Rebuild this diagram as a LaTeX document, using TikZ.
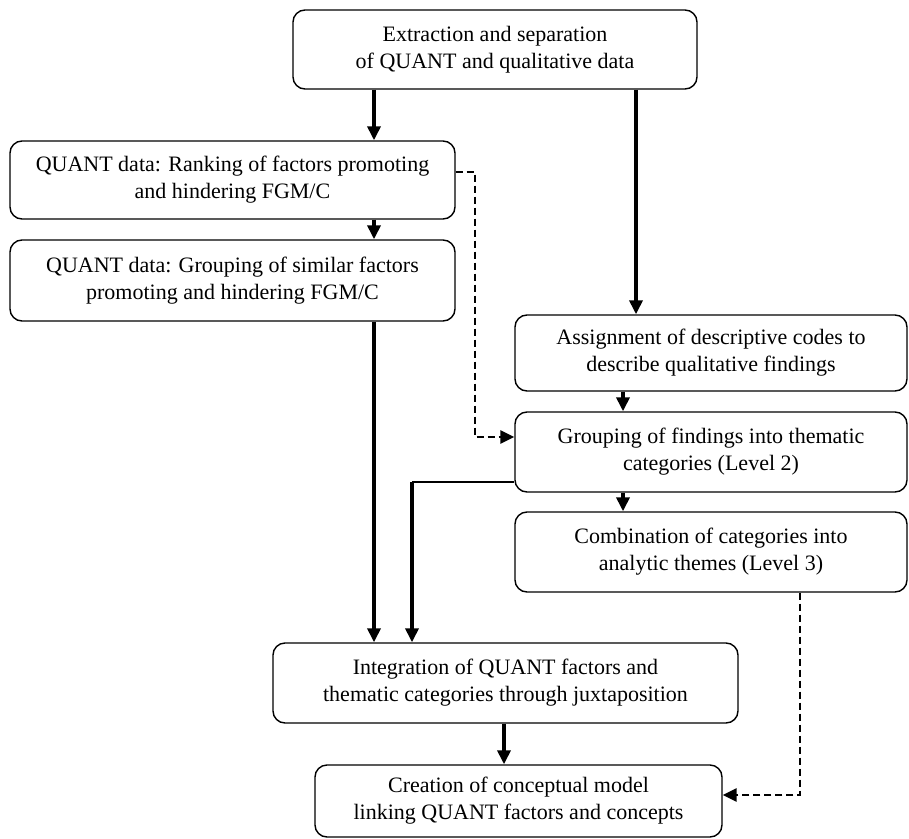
\documentclass[tikz,border=0pt]{standalone}
\usepackage{fontspec}
\setmainfont{Liberation Serif}
\usetikzlibrary{arrows.meta}

\tikzset{
  stage/.style = {draw, rounded corners = 12bp, line width = 1.4bp, align = center,
    inner sep = 0pt, font = \fontsize{22bp}{27bp}\selectfont},
  flow/.style = {-{Triangle[length = 14bp, width = 13bp]}, line width = 3.5bp},
  dflow/.style = {flow, line width = 2.8bp, dash pattern = on 7bp off 4bp},
}

\begin{document}
\begin{tikzpicture}[x = 1bp, y = -1bp]
  \useasboundingbox (0, 0) rectangle (909, 839);
  \node[stage, minimum width = 404bp, minimum height = 79bp] at (495, 49.5) (extract)
    {Extraction and separation\\of QUANT and qualitative data};
  \node[stage, minimum width = 445bp, minimum height = 78bp] at (232.5, 180) (rank)
    {QUANT data: Ranking of factors promoting\\and hindering FGM/C};
  \node[stage, minimum width = 445bp, minimum height = 81bp] at (232.5, 280.5) (group)
    {QUANT data: Grouping of similar factors\\promoting and hindering FGM/C};
  \node[stage, minimum width = 392bp, minimum height = 76bp] at (711, 353) (assign)
    {Assignment of descriptive codes to\\describe qualitative findings};
  \node[stage, minimum width = 392bp, minimum height = 80bp] at (711, 452) (theme)
    {Grouping of findings into thematic\\categories (Level 2)};
  \node[stage, minimum width = 392bp, minimum height = 80bp] at (711, 552) (combine)
    {Combination of categories into\\analytic themes (Level 3)};
  \node[stage, minimum width = 465bp, minimum height = 80bp] at (505.5, 683) (integ)
    {Integration of QUANT factors and\\thematic categories through juxtaposition};
  \node[stage, minimum width = 407bp, minimum height = 72bp] at (518.5, 801) (create)
    {Creation of conceptual model\\linking QUANT factors and concepts};
  % columns and bends of the connectors
  \coordinate (colL) at (374, 0);
  \coordinate (colR) at (636, 0);
  \coordinate (colM) at (623, 0);
  \coordinate (colC) at (504, 0);
  \coordinate (bend) at (412, 482);
  \coordinate (d1) at (475, 172);
  \coordinate (d2) at (475, 437);
  \coordinate (d3) at (800, 795);
  \draw[flow] (extract.south -| colL) -- (rank.north -| colL);
  \draw[flow] (extract.south -| colR) -- (assign.north -| colR);
  \draw[flow] (rank.south -| colL) -- (group.north -| colL);
  \draw[flow] (group.south -| colL) -- (integ.north -| colL);
  \draw[flow] (assign.south -| colM) -- (theme.north -| colM);
  \draw[flow] (theme.south -| colM) -- (combine.north -| colM);
  \draw[line width = 1.4bp] (theme.west |- bend) -- (bend);
  \draw[flow] (bend) -- (integ.north -| bend);
  \draw[flow] (integ.south -| colC) -- (create.north -| colC);
  \draw[dflow] (rank.east |- d1) -- (d1) -- (d2) -- (theme.west |- d2);
  \draw[dflow] (combine.south -| d3) -- (d3) -- (create.east |- d3);
\end{tikzpicture}
\end{document}
